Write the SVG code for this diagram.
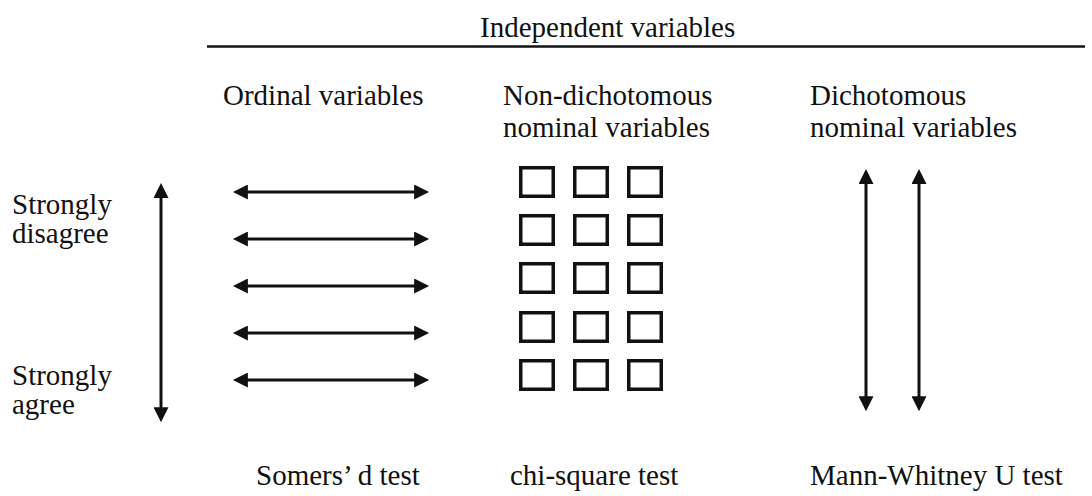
<svg xmlns="http://www.w3.org/2000/svg" width="1092" height="496" viewBox="0 0 1092 496">
<style>
  .t { font-family: 'Liberation Serif', 'Times New Roman', 'DejaVu Serif', serif; font-size: 29px; fill: #111; }
  .ln { stroke: #111; stroke-width: 3; fill: none; marker-start: url(#ah); marker-end: url(#ah); }
  .bx { stroke: #111; stroke-width: 3.5; fill: none; }
  .rule { stroke: #111; stroke-width: 2.5; }
</style>
<defs>
  <marker id="ah" viewBox="0 0 16 16" refX="2" refY="8" markerWidth="16" markerHeight="15" markerUnits="userSpaceOnUse" orient="auto-start-reverse">
    <path d="M0,0 L16,8 L0,16 z" fill="#111"/>
  </marker>
</defs>
<rect width="1092" height="496" fill="#fff"/>

<g class="t" font-family="Liberation Serif, serif">
<g id="header">
  <text x="480" y="37">Independent variables</text>
  <line class="rule" x1="207" y1="46.5" x2="1085" y2="46.5"/>
</g>

<g id="col-ordinal">
  <text x="223" y="105">Ordinal variables</text>
  <text x="256" y="485">Somers’ d test</text>
</g>
<g id="col-nondich">
  <text x="503" y="105">Non-dichotomous</text>
  <text x="503" y="137">nominal variables</text>
  <text x="510" y="485">chi-square test</text>
</g>
<g id="col-dich">
  <text x="810" y="105">Dichotomous</text>
  <text x="810" y="137">nominal variables</text>
  <text x="810" y="485">Mann-Whitney U test</text>
</g>

<g id="scale-labels">
  <text x="12" y="214">Strongly</text>
  <text x="12" y="243">disagree</text>
  <text x="12" y="385">Strongly</text>
  <text x="12" y="414">agree</text>
</g>
</g>

<g id="squares">
  <rect class="bx" x="520.75" y="167.75" width="32.5" height="28.5"/>
  <rect class="bx" x="574.75" y="167.75" width="32.5" height="28.5"/>
  <rect class="bx" x="628.75" y="167.75" width="32.5" height="28.5"/>
  <rect class="bx" x="520.75" y="215.75" width="32.5" height="28.5"/>
  <rect class="bx" x="574.75" y="215.75" width="32.5" height="28.5"/>
  <rect class="bx" x="628.75" y="215.75" width="32.5" height="28.5"/>
  <rect class="bx" x="520.75" y="263.75" width="32.5" height="28.5"/>
  <rect class="bx" x="574.75" y="263.75" width="32.5" height="28.5"/>
  <rect class="bx" x="628.75" y="263.75" width="32.5" height="28.5"/>
  <rect class="bx" x="520.75" y="312.75" width="32.5" height="28.5"/>
  <rect class="bx" x="574.75" y="312.75" width="32.5" height="28.5"/>
  <rect class="bx" x="628.75" y="312.75" width="32.5" height="28.5"/>
  <rect class="bx" x="520.75" y="360.75" width="32.5" height="28.5"/>
  <rect class="bx" x="574.75" y="360.75" width="32.5" height="28.5"/>
  <rect class="bx" x="628.75" y="360.75" width="32.5" height="28.5"/>
</g>

<g id="connectors">
  <line class="ln" x1="161" y1="196" x2="161" y2="409"/>
  <line class="ln" x1="246" y1="192" x2="416" y2="192"/>
  <line class="ln" x1="246" y1="239" x2="416" y2="239"/>
  <line class="ln" x1="246" y1="286" x2="416" y2="286"/>
  <line class="ln" x1="246" y1="333" x2="416" y2="333"/>
  <line class="ln" x1="246" y1="380" x2="416" y2="380"/>
  <line class="ln" x1="866" y1="182" x2="866" y2="398"/>
  <line class="ln" x1="919" y1="182" x2="919" y2="398"/>
</g>
</svg>
